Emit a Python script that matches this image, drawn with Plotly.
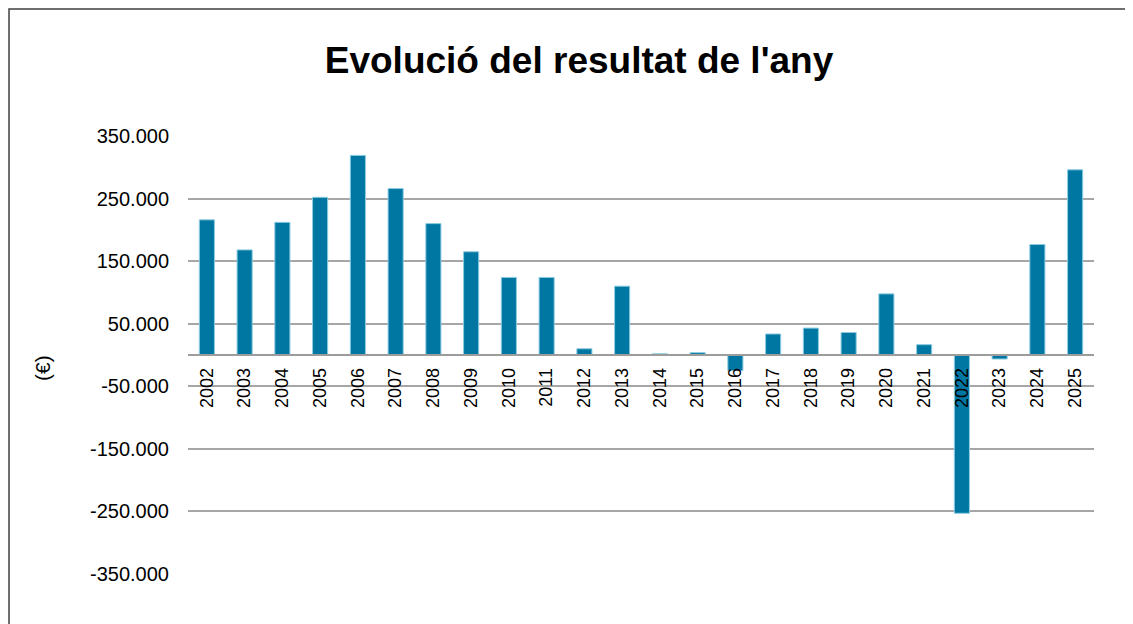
import plotly.graph_objects as go

years = [str(y) for y in range(2002, 2026)]
resultat = [216000, 168000, 212000, 252000, 319000, 266000, 210000, 165000,
            124000, 124000, 10000, 110000, 2000, 3700, -25000, 33600,
            43000, 36000, 97700, 16500, -253000, -6400, 176600, 296000]

tick_vals = [350000, 250000, 150000, 50000, -50000, -150000, -250000, -350000]
tick_text = ["350.000", "250.000", "150.000", "50.000", "-50.000", "-150.000", "-250.000", "-350.000"]

title_text = "Evolució del resultat de l'any"
y_label = "(€)"

OFF = 8  # page body margin

fig = go.Figure()
fig.add_trace(go.Bar(
    x=years, y=resultat,
    marker=dict(color="#0077A3", line=dict(color="#8CCBE0", width=1)),
    showlegend=False,
))

fig.update_layout(
    width=1133, height=624,
    margin=dict(l=188 - OFF, r=39 + OFF, t=136 - OFF, b=50 + OFF),
    paper_bgcolor="white", plot_bgcolor="white",
    bargap=0.6,
    font=dict(family="Liberation Sans, Arial, sans-serif", color="black"),
    title=dict(text="<b>" + title_text + "</b>", x=(579 - OFF) / 1133, xref="container",
               y=1 - (60 - OFF) / 624, yref="container", xanchor="center", yanchor="middle",
               font=dict(size=37, family="Liberation Sans, Arial, sans-serif", color="black")),
    xaxis=dict(
        type="category",
        anchor="free", position=0.5,
        showline=True, linecolor="#9C9C9C", linewidth=1.5,
        showgrid=False, ticks="",
        tickangle=-90,
        ticklabelstandoff=5,
        tickfont=dict(size=18, color="black"),
    ),
    yaxis=dict(
        range=[-350000, 350000],
        tickvals=tick_vals, ticktext=tick_text,
        showgrid=True, gridcolor="#A6A6A6", gridwidth=1.5,
        zeroline=False, showline=False, ticks="",
        ticklabelstandoff=18,
        tickfont=dict(size=20, color="black"),
    ),
    shapes=[dict(type="rect", xref="paper", yref="paper",
                 x0=(9 - 188) / 906, x1=1.2, y0=-0.3, y1=(574 - 9) / 438,
                 line=dict(color="#404040", width=1.5), fillcolor="rgba(0,0,0,0)", layer="below")],
    annotations=[dict(text=y_label, textangle=-90, xref="paper", yref="paper",
                      x=(42 - 188) / 906, y=(574 - 368) / 438, showarrow=False,
                      xanchor="center", yanchor="middle",
                      font=dict(size=21, color="black"))],
)

fig.write_html("out.html")
